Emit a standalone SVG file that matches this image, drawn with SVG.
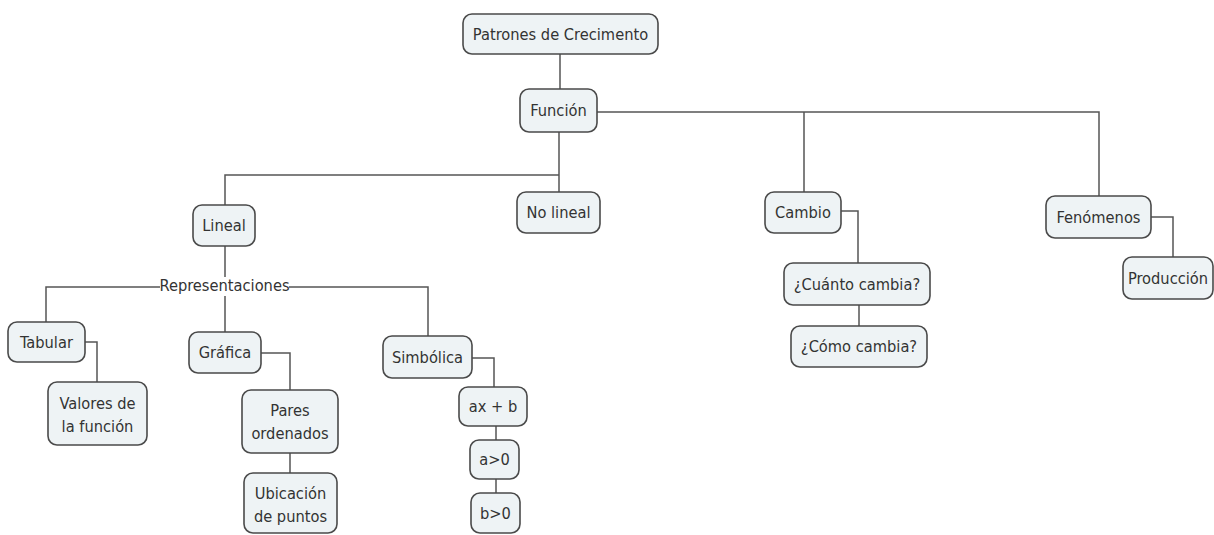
<svg xmlns="http://www.w3.org/2000/svg" width="1214" height="535" viewBox="0 0 1214 535">
<style>
.n rect{fill:#eef3f5;stroke:#4a4a4a;stroke-width:1.6}
text{font-family:"DejaVu Sans Condensed","DejaVu Sans",sans-serif;font-stretch:condensed;font-size:16.3px;fill:#333;text-anchor:middle}
#connectors path{fill:none;stroke:#555;stroke-width:1.5}
</style>
<rect width="1214" height="535" fill="#fff"/>
<g id="connectors">
<path d="M560,54V89"/>
<path d="M597,112H1099V196M804,112V192"/>
<path d="M559,132V192M559,175H225V205"/>
<path d="M225,246V332"/>
<path d="M46,322V287H428V336"/>
<path d="M85,342H97V382"/>
<path d="M261,353H290V390M290,453V473"/>
<path d="M472,358H494V387M496,426V440M496,479V493"/>
<path d="M841,211H858V263M859,305V326"/>
<path d="M1151,217H1173V257"/>
<rect x="160" y="277" width="129" height="19" fill="#fff"/>
<text x="224.5" y="291">Representaciones</text>
</g>
<g id="patrones" class="n"><rect x="463" y="14" width="195" height="40" rx="9"/><text x="560.5" y="39.5">Patrones de Crecimento</text></g>
<g id="funcion" class="n"><rect x="520" y="89" width="77" height="43" rx="9"/><text x="558.5" y="116">Función</text></g>
<g id="nolineal" class="n"><rect x="517" y="192" width="83" height="41" rx="9"/><text x="558.5" y="218">No lineal</text></g>
<g id="lineal" class="n"><rect x="193" y="205" width="62" height="41" rx="9"/><text x="224" y="231">Lineal</text></g>
<g id="tabular" class="n"><rect x="8" y="322" width="77" height="40" rx="9"/><text x="46.5" y="347.5">Tabular</text></g>
<g id="valores" class="n"><rect x="48" y="382" width="99" height="63" rx="9"/><text x="97.5" y="409">Valores de</text><text x="97.5" y="432">la función</text></g>
<g id="grafica" class="n"><rect x="189" y="332" width="72" height="41" rx="9"/><text x="225" y="358">Gráfica</text></g>
<g id="pares" class="n"><rect x="242" y="390" width="96" height="63" rx="9"/><text x="290" y="416">Pares</text><text x="290" y="439">ordenados</text></g>
<g id="ubicacion" class="n"><rect x="244" y="473" width="93" height="60" rx="9"/><text x="290.5" y="499">Ubicación</text><text x="290.5" y="522">de puntos</text></g>
<g id="simbolica" class="n"><rect x="383" y="336" width="89" height="42" rx="9"/><text x="427.5" y="362.5">Simbólica</text></g>
<g id="axb" class="n"><rect x="459" y="387" width="68" height="39" rx="9"/><text x="493" y="412">ax + b</text></g>
<g id="a0" class="n"><rect x="470" y="440" width="49" height="39" rx="9"/><text x="494.5" y="465">a&gt;0</text></g>
<g id="b0" class="n"><rect x="471" y="493" width="49" height="40" rx="9"/><text x="495.5" y="518.5">b&gt;0</text></g>
<g id="cambio" class="n"><rect x="765" y="192" width="76" height="41" rx="9"/><text x="803" y="218">Cambio</text></g>
<g id="cuanto" class="n"><rect x="784" y="263" width="146" height="42" rx="9"/><text x="857" y="289.5">¿Cuánto cambia?</text></g>
<g id="como" class="n"><rect x="791" y="326" width="136" height="41" rx="9"/><text x="859" y="352">¿Cómo cambia?</text></g>
<g id="fenomenos" class="n"><rect x="1046" y="196" width="105" height="42" rx="9"/><text x="1098.5" y="222.5">Fenómenos</text></g>
<g id="produccion" class="n"><rect x="1123" y="257" width="90" height="42" rx="9"/><text x="1168" y="283.5">Producción</text></g>
</svg>
